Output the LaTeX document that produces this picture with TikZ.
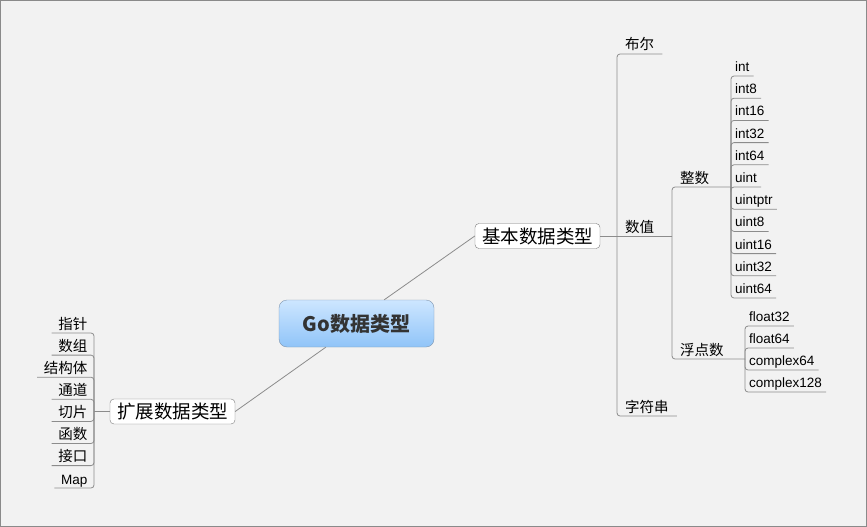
\documentclass[tikz,border=0pt]{standalone}
\usepackage{fontspec}
\setmainfont{Liberation Sans}
\newfontfamily\cjk{Noto Sans CJK SC}
\definecolor{paper}{HTML}{F2F2F2}
\definecolor{frame}{HTML}{8A8A8A}
\definecolor{linegray}{HTML}{8C8C8C}
\definecolor{boxgray}{HTML}{7A7A7A}
\definecolor{rootedge}{HTML}{7F96B0}
\definecolor{rootlight}{HTML}{CDE6FF}
\definecolor{rootdark}{HTML}{90C4F8}
\definecolor{roottext}{HTML}{333333}
\begin{document}
\begin{tikzpicture}[x=1pt,y=-1pt,
  branch/.style={draw=linegray,line width=0.8pt,rounded corners=3pt},
  root/.style={draw=rootedge,rounded corners=8pt,top color=rootlight,bottom color=rootdark,
    minimum width=155pt,minimum height=47pt,inner sep=0pt,text=roottext,
    font=\cjk\bfseries\fontsize{20}{22}\selectfont},
  topic/.style={draw=boxgray,fill=white,rounded corners=4pt,inner sep=0pt,
    minimum width=125pt,minimum height=25pt,font=\cjk\fontsize{18.5}{20}\selectfont},
  leaf/.style={anchor=south west,inner xsep=4pt,inner ysep=1.5pt,
    text height=9.5pt,text depth=2.8pt,font=\fontsize{13.5}{15}\selectfont},
  cleaf/.style={leaf,inner xsep=8pt,text depth=2.3pt,font=\cjk\fontsize{14.5}{16}\selectfont},
  lleaf/.style={cleaf,anchor=south east,inner xsep=6.5pt}]
\useasboundingbox (0,0) rectangle (867,527);
\draw[frame,fill=paper] (0.5,0.5) rectangle (866.5,526.5);

% main topics
\node[root] (go) at (356.5,323.5) {Go数据类型};
\node[topic] (basic) at (537.5,236) {基本数据类型};
\node[topic] (ext) at (172.5,411.5) {扩展数据类型};
\draw[branch] ([xshift=-50pt]go.north east) -- (basic.west);
\draw[branch] ([xshift=47pt]go.south west) -- (ext.east);

% basic types
\coordinate (jb) at (617,236);
\coordinate (jn) at (672,236);
\node[cleaf] (bool) at (617,54) {布尔};
\node[cleaf] (num) at (617,236) {数值};
\node[cleaf] (str) at (617,416) {字符串};
\draw[branch] (basic.east) -- (jb);
\draw[branch] (jb) |- (bool.south east);
\draw[branch] (jb) |- (str.south east);
\draw[branch] (jb) -- (jn);

\coordinate (ji) at (731,187);
\coordinate (jf) at (745,359);
\node[cleaf] (zs) at (672,187) {整数};
\node[cleaf] (fd) at (672,359) {浮点数};
\draw[branch] (jn) |- (ji);
\draw[branch] (jn) |- (jf);

\foreach \t [count=\k from 0] in {int,int8,int16,int32,int64,uint,uintptr,uint8,uint16,uint32,uint64}
{
  \node[leaf] (i\k) at (731,{76+22.2*\k}) {\t};
  \draw[branch] (ji) |- (i\k.south east);
}
\foreach \t [count=\k from 0] in {float32,float64,complex64,complex128}
{
  \node[leaf] (f\k) at (745,{326+22*\k}) {\t};
  \draw[branch] (jf) |- (f\k.south east);
}

% extended types
\coordinate (je) at (94,411.5);
\draw[branch] (ext.west) -- (je);
\foreach \t [count=\k from 0] in {指针,数组,结构体,通道,切片,函数,接口}
{
  \node[lleaf] (e\k) at (94,{333+22.1*\k}) {\t};
  \draw[branch] (je) |- (e\k.south west);
}
\node[lleaf,font=\fontsize{13.5}{15}\selectfont] (map) at (94,488) {Map};
\draw[branch] (je) |- (map.south west);
\end{tikzpicture}
\end{document}
